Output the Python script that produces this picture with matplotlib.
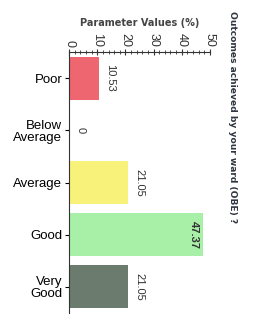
import matplotlib.pyplot as plt
from matplotlib.ticker import MultipleLocator

categories = ['Poor', 'Below\nAverage', 'Average', 'Good', 'Very\nGood']
values = [10.53, 0, 21.05, 47.37, 21.05]
labels = ['10.53', '0', '21.05', '47.37', '21.05']
colors = ['#ee6670', '#f4f4f4', '#f8f27a', '#a8f0a8', '#6b7b6e']

plt.rcParams['font.family'] = ['Liberation Sans', 'DejaVu Sans']

fig = plt.figure(figsize=(2.56, 3.18), dpi=100)
ax = fig.add_axes([0.27, 0.016, 0.55, 0.82])

pos = range(len(categories))
ax.barh(pos, values, height=0.82, color=colors)
ax.set_xlim(0, 50)
ax.set_ylim(len(categories) - 0.5, -0.5)

for i, (v, s) in enumerate(zip(values, labels)):
    if v > 40:
        ax.text(v - 1.2, i, s, rotation=-90, ha='right', va='center',
                fontsize=8, fontweight='bold', color='#333333')
    else:
        ax.text(v + 2.3, i, s, rotation=-90, ha='left', va='center',
                fontsize=8, color='#333333')

ax.xaxis.tick_top()
ax.xaxis.set_label_position('top')
ax.xaxis.set_major_locator(MultipleLocator(10))
ax.xaxis.set_minor_locator(MultipleLocator(2))
ax.tick_params(axis='x', which='major', direction='inout', length=5,
               labelsize=9, labelrotation=-90, pad=1, colors='#333333')
ax.tick_params(axis='x', which='minor', direction='inout', length=3, color='#333333')
ax.tick_params(axis='y', direction='out', length=3, labelsize=9.5, pad=2)
ax.set_yticks(list(pos))
ax.set_yticklabels(categories, linespacing=1.0)
ax.set_xlabel('Parameter Values (%)', fontsize=7, fontweight='bold',
              color='#444444', labelpad=5, family='DejaVu Sans')

for side in ['right', 'bottom']:
    ax.spines[side].set_visible(False)
ax.spines['left'].set_color('#333333')
ax.spines['top'].set_color('#333333')

fig.text(0.908, 0.965, 'Outcomes achieved by your ward (OBE) ?', rotation=-90,
         ha='center', va='top', fontsize=6.6, fontweight='bold', color='#2e3440',
         family='DejaVu Sans')

fig.savefig('out.png', dpi=100)
